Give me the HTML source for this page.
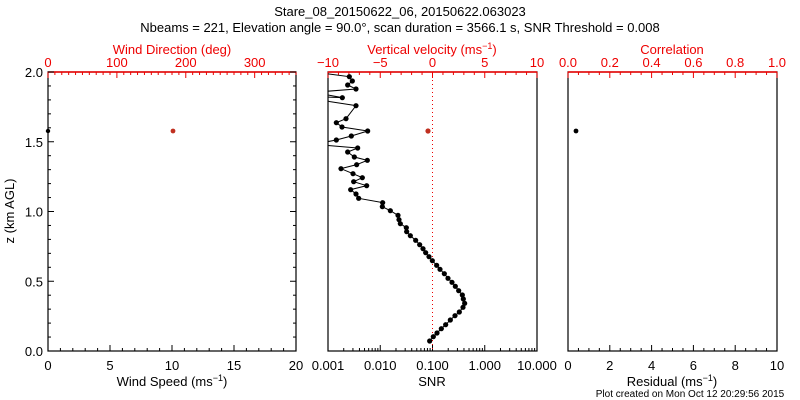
<!DOCTYPE html>
<html><head><meta charset="utf-8"><style>
html,body{margin:0;padding:0;background:#fff;}
svg{display:block;font-family:"Liberation Sans",sans-serif;}
</style></head><body>
<svg id="s" width="800" height="400" xmlns="http://www.w3.org/2000/svg">
<rect width="800" height="400" fill="#fff"/>
<text x="400" y="16" font-size="13" text-anchor="middle">Stare_08_20150622_06, 20150622.063023</text>
<text x="400" y="32" font-size="13" text-anchor="middle">Nbeams = 221, Elevation angle = 90.0°, scan duration = 3566.1 s, SNR Threshold = 0.008</text>
<text x="172" y="54" font-size="13" fill="#e00" text-anchor="middle">Wind Direction (deg)</text>
<text x="432" y="54" font-size="13" fill="#e00" text-anchor="middle">Vertical velocity (ms<tspan dy="-5" font-size="9">−1</tspan><tspan dy="5">)</tspan></text>
<text x="672" y="54" font-size="13" fill="#e00" text-anchor="middle">Correlation</text>
<text x="172" y="386" font-size="13" text-anchor="middle">Wind Speed (ms<tspan dy="-5" font-size="9">−1</tspan><tspan dy="5">)</tspan></text>
<text x="432" y="386" font-size="13" text-anchor="middle">SNR</text>
<text x="672" y="386" font-size="13" text-anchor="middle">Residual (ms<tspan dy="-5" font-size="9">−1</tspan><tspan dy="5">)</tspan></text>
<text x="690" y="397" font-size="10" text-anchor="middle">Plot created on Mon Oct 12 20:29:56 2015</text>
<text transform="translate(14,211) rotate(-90)" font-size="13" text-anchor="middle">z (km AGL)</text>
<defs><clipPath id="cp"><rect x="328" y="72" width="209" height="279"/></clipPath></defs>
<g id="g"></g>
</svg>
<script>
(function(){
const g=document.getElementById('g');const NS='http://www.w3.org/2000/svg';
function el(t,a,txt){const e=document.createElementNS(NS,t);for(const k in a)e.setAttribute(k,a[k]);if(txt!==undefined)e.textContent=txt;g.appendChild(e);return e;}
const T=72,B=351;
function line(x1,y1,x2,y2,c,w){el('line',{x1:x1,y1:y1,x2:x2,y2:y2,stroke:c||'#000','stroke-width':w||1});}
function panel(L,R){el('rect',{x:L,y:T,width:R-L,height:B-T,fill:'none',stroke:'#000','stroke-width':1.2});}
function topAx(L,R,min,max,maj,minr,labels){line(L,T,R,T,'#e00',1.5);
 for(let v=min;v<=max+1e-9;v+=minr){const x=L+(v-min)/(max-min)*(R-L);const isM=Math.abs(v/maj-Math.round(v/maj))<1e-6;line(x,T,x,T+(isM?6:3),'#e00');}
 labels.forEach(function(p){const x=L+(p[0]-min)/(max-min)*(R-L);el('text',{x:x,y:67,'font-size':13,fill:'#e00','text-anchor':'middle'},p[1]);});}
function botAx(L,R,min,max,maj,minr,labels){
 for(let v=min;v<=max+1e-9;v+=minr){const x=L+(v-min)/(max-min)*(R-L);const isM=Math.abs(v/maj-Math.round(v/maj))<1e-6;line(x,B,x,B-(isM?6:3));}
 labels.forEach(function(p){const x=L+(p[0]-min)/(max-min)*(R-L);el('text',{x:x,y:370,'font-size':13,'text-anchor':'middle'},p[1]);});}
panel(48,296);
topAx(48,296,0,360,100,10,[[0,'0'],[100,'100'],[200,'200'],[300,'300']]);
botAx(48,296,0,20,5,1,[[0,'0'],[5,'5'],[10,'10'],[15,'15'],[20,'20']]);
for(let i=0;i<=20;i++){const y=B-i/20*(B-T);const m=i%5==0;line(48,y,48+(m?6:3),y);line(296,y,296-(m?6:3),y);}
[[0,'0.0'],[0.5,'0.5'],[1,'1.0'],[1.5,'1.5'],[2,'2.0']].forEach(function(p){el('text',{x:43,y:B-p[0]/2*(B-T)+5,'font-size':13,'text-anchor':'end'},p[1]);});
el('circle',{cx:173,cy:131,r:2.4,fill:'#c03020'});el('circle',{cx:48,cy:131,r:2.2,fill:'#000'});
const ML=328,MR=537;panel(ML,MR);
topAx(ML,MR,-10,10,5,1,[[-10,'−10'],[-5,'−5'],[0,'0'],[5,'5'],[10,'10']]);
for(let d=-3;d<=1;d++){for(let k=1;k<=9;k++){if(d==1&&k>1)break;const x=ML+(d+3+Math.log10(k))*52.25;line(x,B,x,B-(k==1?6:3));}}
[['0.001',ML],['0.010',ML+52.25],['0.100',ML+104.5],['1.000',ML+156.75],['10.000',MR]].forEach(function(p){el('text',{x:p[1],y:370,'font-size':13,'text-anchor':'middle'},p[0]);});
el('line',{x1:432.5,y1:T,x2:432.5,y2:B,stroke:'#e00','stroke-dasharray':'1,3'});
const pz=[[118,50],[127,63],[113,75],[138,87],[10,97],[97,113],[10,110],[60,125],[138,137],[108,176],[79,188],[96,201],[173,213],[124,228],[79,240],[10,253],[143,264],[113,276],[133,291],[172,301],[140,314],[93,326],[129,341],[157,353],[131,365],[170,377],[122,389],[138,402],[146,415],[218,428],[217,440],[241,452],[264,466],[267,479],[271,491],[289,503],[290,515],[301,527],[317,541],[329,554],[339,566],[347,578],[357,590],[367,602],[380,616],[390,628],[403,641],[414,655],[426,667],[436,679],[446,692],[457,705],[460,717],[464,730],[459,742],[448,756],[435,767],[421,780],[407,794],[394,806],[381,819],[370,830],[359,843]];
const pts=pz.map(function(p){return [310+p[0]/3,60+p[1]/3];});
const all=[[310+118/3-30,60+38/3]].concat(pts);
el('polyline',{points:all.map(function(p){return p.join(',');}).join(' '),fill:'none',stroke:'#000','stroke-width':1,'clip-path':'url(#cp)'});
pts.forEach(function(p){if(p[0]>ML+2)el('circle',{cx:p[0],cy:p[1],r:2.6,fill:'#000'});});
el('circle',{cx:428,cy:131,r:2.6,fill:'#c03020'});
const RL=568,RR=777;panel(RL,RR);
topAx(RL,RR,0,1,0.2,0.05,[[0,'0.0'],[0.2,'0.2'],[0.4,'0.4'],[0.6,'0.6'],[0.8,'0.8'],[1,'1.0']]);
botAx(RL,RR,0,10,2,0.5,[[0,'0'],[2,'2'],[4,'4'],[6,'6'],[8,'8'],[10,'10']]);
el('circle',{cx:576,cy:131,r:2.4,fill:'#000'});
})();
</script>
</body></html>
